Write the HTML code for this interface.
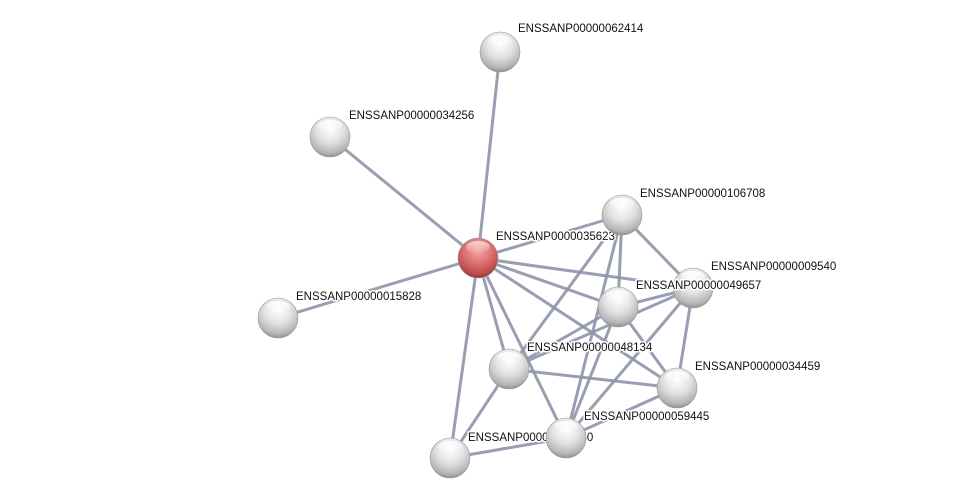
<!DOCTYPE html>
<html><head><meta charset="utf-8"><style>
html,body{margin:0;padding:0;background:#fff;}
svg{display:block}
text{font-family:"Liberation Sans",Arial,sans-serif;font-size:11.5px;fill:#111;paint-order:stroke;stroke:#fff;stroke-width:3px;stroke-linejoin:round}
</style></head><body>
<svg width="975" height="504" viewBox="0 0 975 504" xmlns="http://www.w3.org/2000/svg">
<defs>
<radialGradient id="g" cx="0.5" cy="0.3" r="0.75">
<stop offset="0" stop-color="#ffffff"/>
<stop offset="0.45" stop-color="#e2e2e2"/>
<stop offset="0.8" stop-color="#b5b5b5"/>
<stop offset="1" stop-color="#7d7d7d"/>
</radialGradient>
<radialGradient id="r" cx="0.5" cy="0.3" r="0.75">
<stop offset="0" stop-color="#f5a8a8"/>
<stop offset="0.45" stop-color="#dc7272"/>
<stop offset="0.8" stop-color="#bb4a4a"/>
<stop offset="1" stop-color="#822a2a"/>
</radialGradient>
<linearGradient id="hl" x1="0" y1="0" x2="0" y2="1">
<stop offset="0" stop-color="#fff" stop-opacity="0.95"/>
<stop offset="1" stop-color="#fff" stop-opacity="0"/>
</linearGradient>
</defs>
<g stroke="#8f93aa" stroke-width="3" stroke-opacity="0.9" fill="none">
<line x1="478" y1="258" x2="500" y2="52"/>
<line x1="478" y1="258" x2="330" y2="137"/>
<line x1="478" y1="258" x2="278" y2="318"/>
<line x1="478" y1="258" x2="622" y2="215"/>
<line x1="478" y1="258" x2="693" y2="288"/>
<line x1="478" y1="258" x2="618" y2="307"/>
<line x1="478" y1="258" x2="677" y2="388"/>
<line x1="478" y1="258" x2="509" y2="369"/>
<line x1="478" y1="258" x2="566" y2="438"/>
<line x1="478" y1="258" x2="450" y2="458"/>
<line x1="622" y1="215" x2="693" y2="288"/>
<line x1="622" y1="215" x2="618" y2="307"/>
<line x1="622" y1="215" x2="509" y2="369"/>
<line x1="622" y1="215" x2="566" y2="438"/>
<line x1="618" y1="307" x2="693" y2="288"/>
<line x1="618" y1="307" x2="509" y2="369"/>
<line x1="618" y1="307" x2="566" y2="438"/>
<line x1="618" y1="307" x2="677" y2="388"/>
<line x1="693" y1="288" x2="509" y2="369"/>
<line x1="693" y1="288" x2="566" y2="438"/>
<line x1="693" y1="288" x2="677" y2="388"/>
<line x1="509" y1="369" x2="677" y2="388"/>
<line x1="509" y1="369" x2="450" y2="458"/>
<line x1="566" y1="438" x2="450" y2="458"/>
<line x1="566" y1="438" x2="677" y2="388"/>
</g>
<text x="496" y="240">ENSSANP0000035623</text>
<text x="468" y="441">ENSSANP00000016550</text>
<g stroke="#999" stroke-width="0.6">
<circle cx="500" cy="52" r="20" fill="url(#g)"/>
<circle cx="330" cy="137" r="20" fill="url(#g)"/>
<circle cx="278" cy="318" r="20" fill="url(#g)"/>
<circle cx="622" cy="215" r="20" fill="url(#g)"/>
<circle cx="693" cy="288" r="20" fill="url(#g)"/>
<circle cx="618" cy="307" r="20" fill="url(#g)"/>
<circle cx="509" cy="369" r="20" fill="url(#g)"/>
<circle cx="677" cy="388" r="20" fill="url(#g)"/>
<circle cx="450" cy="458" r="20" fill="url(#g)"/>
<circle cx="566" cy="438" r="20" fill="url(#g)"/>
<circle cx="478" cy="258" r="20" fill="url(#r)"/>
</g>
<g fill="url(#hl)">
<ellipse cx="500" cy="41" rx="12" ry="6"/>
<ellipse cx="330" cy="126" rx="12" ry="6"/>
<ellipse cx="278" cy="307" rx="12" ry="6"/>
<ellipse cx="622" cy="204" rx="12" ry="6"/>
<ellipse cx="693" cy="277" rx="12" ry="6"/>
<ellipse cx="618" cy="296" rx="12" ry="6"/>
<ellipse cx="509" cy="358" rx="12" ry="6"/>
<ellipse cx="677" cy="377" rx="12" ry="6"/>
<ellipse cx="450" cy="447" rx="12" ry="6"/>
<ellipse cx="566" cy="427" rx="12" ry="6"/>
<ellipse cx="478" cy="247" rx="12" ry="6" opacity="0.7"/>
</g>
<text x="518" y="32">ENSSANP00000062414</text>
<text x="349" y="119">ENSSANP00000034256</text>
<text x="296" y="300">ENSSANP00000015828</text>
<text x="640" y="197">ENSSANP00000106708</text>
<text x="711" y="270">ENSSANP00000009540</text>
<text x="636" y="289">ENSSANP00000049657</text>
<text x="527" y="351">ENSSANP00000048134</text>
<text x="695" y="370">ENSSANP00000034459</text>
<text x="584" y="420">ENSSANP00000059445</text>
</svg>
</body></html>
